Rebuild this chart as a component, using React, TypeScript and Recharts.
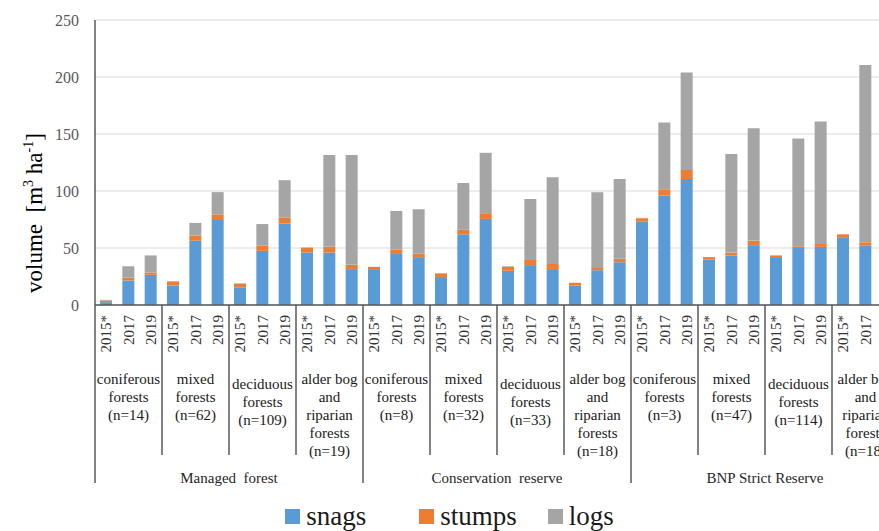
import { BarChart, Bar, XAxis, YAxis, CartesianGrid, Legend } from 'recharts';

const YEARS = ['2015*', '2017', '2019'];
const FOREST_TYPES = [
  ['coniferous', 'forests'],
  ['mixed', 'forests'],
  ['deciduous', 'forests'],
  ['alder bog', 'and', 'riparian', 'forests'],
];
const MANAGEMENT = ['Managed  forest', 'Conservation  reserve', 'BNP Strict Reserve'];
const PLOT_COUNTS = [
  [14, 62, 109, 19],
  [8, 32, 33, 18],
  [3, 47, 114, 18],
];

// values in m3/ha, order: management -> forest type -> year
const SNAGS = [
  2.5, 21.5, 26.5, 17, 56.5, 74.5, 15.5, 47.5, 71.5, 46, 46, 31.5,
  31.5, 45.5, 42, 24.5, 62, 75.5, 30, 35, 31.5, 17, 30.5, 37.5,
  73, 96, 110.5, 40, 43.5, 52.5, 42, 50, 51, 59.5, 52, null,
];
const STUMPS = [
  1.5, 2.5, 2, 3.5, 4.5, 5, 3, 4.5, 5, 4, 5, 4,
  2, 3, 3, 3, 4, 5, 3.5, 4.5, 4.5, 2.5, 2, 3,
  3, 5.5, 8, 2, 2.5, 4, 1.5, 1.5, 2.5, 2.5, 3, null,
];
const LOGS = [
  0.5, 10, 15, 0.5, 11, 19.5, 0.5, 19, 33, 0.5, 80.5, 96,
  0, 34, 39, 0.5, 41, 53, 0.5, 53.5, 76, 0, 66.5, 70,
  0.5, 58.5, 85.5, 0, 86.5, 98.5, 0, 94.5, 107.5, 0, 155.5, null,
];
const Y_TICKS = [0, 50, 100, 150, 200, 250];

const data = SNAGS.map((s, i) => ({
  id: String(i),
  year: YEARS[i % 3],
  snags: s,
  stumps: STUMPS[i],
  logs: LOGS[i],
}));

const FONT = "'Liberation Serif', 'DejaVu Serif', 'Times New Roman', serif";
const CHART_W = 900;
const CHART_H = 531;
const Y_W = 95;
const MARGIN = { top: 20, right: 1, left: 0, bottom: 0 };
const LEGEND_H = 30;
const X_H = 196;
const BAND = (CHART_W - Y_W - MARGIN.left - MARGIN.right) / data.length;

const COLORS = { snags: '#5B9BD5', stumps: '#ED7D31', logs: '#A5A5A5' };

function XTick(props: any) {
  const { x, y, index } = props;
  const pos = index % 3;
  const group = Math.floor(index / 3);
  const forest = group % 4;
  const mgmt = Math.floor(group / 4);
  const allLines = [...FOREST_TYPES[forest], `(n=${PLOT_COUNTS[mgmt][forest]})`];
  const left = x - BAND / 2;
  const shift = forest === 2 ? 5 : 0;
  return (
    <g style={{ fontFamily: FONT }}>
      <text
        x={x}
        y={y + 10}
        transform={`rotate(-90 ${x} ${y + 10})`}
        textAnchor="end"
        dy="0.35em"
        fontSize={15}
        fill="#333"
      >
        {YEARS[pos]}
      </text>
      {pos === 0 && (
        <line
          x1={left}
          x2={left}
          y1={y}
          y2={y + (forest === 0 ? 178 : 150)}
          stroke="#595959"
          strokeWidth={1.5}
        />
      )}
      {pos === 1 && (
        <text x={x} y={y + 79 + shift} textAnchor="middle" fontSize={15} fill="#1a1a1a">
          {allLines.map((l, i) => (
            <tspan key={i} x={x} dy={i === 0 ? 0 : 18}>
              {l}
            </tspan>
          ))}
        </text>
      )}
      {index % 12 === 6 && (
        <text x={left} y={y + 178} textAnchor="middle" fontSize={15} fill="#262626" style={{ whiteSpace: 'pre' }}>
          {MANAGEMENT[mgmt]}
        </text>
      )}
    </g>
  );
}

function YLabel() {
  return (
    <text
      x={34}
      y={213}
      transform="rotate(-90 34 213)"
      textAnchor="middle"
      dy="0.35em"
      fontSize={23}
      fill="#000"
      style={{ whiteSpace: 'pre', fontFamily: FONT }}
    >
      volume  [m<tspan dy={-9} fontSize={14}>3</tspan>
      <tspan dy={9}> ha</tspan>
      <tspan dy={-9} fontSize={14}>-1</tspan>
      <tspan dy={9}>]</tspan>
    </text>
  );
}

function LegendContent() {
  const items: [string, string, number][] = [
    ['snags', COLORS.snags, 53],
    ['stumps', COLORS.stumps, 31],
    ['logs', COLORS.logs, 0],
  ];
  return (
    <div
      style={{
        height: LEGEND_H,
        display: 'flex',
        justifyContent: 'center',
        alignItems: 'center',
        fontFamily: FONT,
        fontSize: 27,
        color: '#1a1a1a',
      }}
    >
      {items.map(([name, color, gap]) => (
        <div key={name} style={{ display: 'flex', alignItems: 'center', marginRight: gap }}>
          <span style={{ width: 15, height: 15, background: color, display: 'inline-block', marginRight: 6 }} />
          <span style={{ lineHeight: '30px' }}>{name}</span>
        </div>
      ))}
    </div>
  );
}

export default function App() {
  return (
    <div style={{ position: 'absolute', left: 0, top: 0, width: 879, height: 531, overflow: 'hidden', background: '#fff', fontFamily: FONT }}>
      <BarChart width={CHART_W} height={CHART_H} data={data} margin={MARGIN} barSize={12}>
        <CartesianGrid vertical={false} stroke="#d9d9d9" />
        <XAxis
          dataKey="id"
          interval={0}
          height={X_H}
          tickLine={false}
          tickSize={0}
          tickMargin={0}
          axisLine={{ stroke: '#595959', strokeWidth: 1.5 }}
          tick={<XTick />}
        />
        <YAxis
          width={Y_W}
          domain={[0, 250]}
          ticks={Y_TICKS}
          interval={0}
          tickLine={false}
          tickMargin={10}
          axisLine={{ stroke: '#595959', strokeWidth: 1.5 }}
          tick={{ fontSize: 16, fill: '#595959', style: { fontFamily: FONT } }}
          label={<YLabel />}
        />
        <Legend verticalAlign="bottom" height={LEGEND_H} content={<LegendContent />} />
        <Bar dataKey="snags" stackId="v" fill={COLORS.snags} isAnimationActive={false} />
        <Bar dataKey="stumps" stackId="v" fill={COLORS.stumps} isAnimationActive={false} />
        <Bar dataKey="logs" stackId="v" fill={COLORS.logs} isAnimationActive={false} />
      </BarChart>
    </div>
  );
}
